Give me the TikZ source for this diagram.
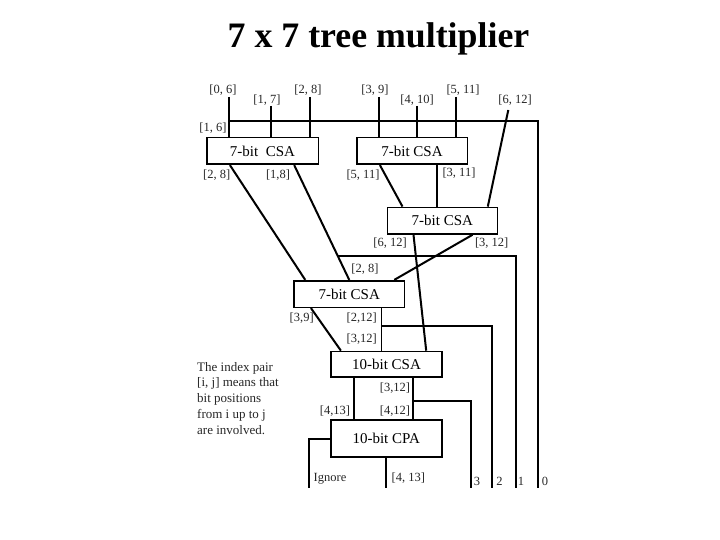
\documentclass[tikz,border=0pt]{standalone}
\usepackage{fontspec}
\setmainfont{Liberation Serif}
\usetikzlibrary{calc}

\tikzset{
  csabox/.style={draw, line width=1.6pt, inner sep=0pt, minimum height=26.6pt,
    font=\fontsize{15}{17}\selectfont},
  idx/.style={inner sep=0pt, font=\fontsize{12.5}{14}\selectfont, text=black!85},
  wire/.style={line width=2pt},
  thinwire/.style={line width=0.9pt},
}

\begin{document}
\begin{tikzpicture}[x=1pt,y=-1pt]
  \useasboundingbox (0,0) rectangle (720,540);
  \node[anchor=base, font=\fontsize{35.8}{40}\selectfont\bfseries] (title) at (378.5,48) {7 x 7 tree multiplier};

  % adders
  \node[csabox, minimum width=111.6pt] (csaA) at (262.5,151) {7-bit\ \ CSA};
  \node[csabox, minimum width=110.6pt] (csaB) at (412,151) {7-bit CSA};
  \node[csabox, minimum width=110pt] (csaC) at (442.3,220.7) {7-bit CSA};
  \node[csabox, minimum width=110.3pt] (csaD) at (349.2,294) {7-bit CSA};
  \node[csabox, minimum width=111pt, minimum height=25.7pt] (csaE) at (386.5,364.3) {10-bit CSA};
  \node[csabox, minimum width=111pt, minimum height=37pt] (cpa) at (386.2,438.7) {10-bit CPA};

  % index labels
  \node[idx] (l06) at (223,90) {[0, 6]};
  \node[idx] (l17) at (267,100) {[1, 7]};
  \node[idx] (l28) at (308,90) {[2, 8]};
  \node[idx] (l39) at (375,90) {[3, 9]};
  \node[idx] (l410) at (417,100) {[4, 10]};
  \node[idx] (l511) at (463,90) {[5, 11]};
  \node[idx] (l612) at (515,100) {[6, 12]};
  \node[idx] (l16) at (213,128) {[1, 6]};
  \node[idx] (lA28) at (216.7,175) {[2, 8]};
  \node[idx] (lA18) at (278,175) {[1,8]};
  \node[idx] (lB511) at (363,175) {[5, 11]};
  \node[idx] (lB311) at (459,173) {[3, 11]};
  \node[idx] (lC612) at (390,243.3) {[6, 12]};
  \node[idx] (lC312) at (491.7,243.3) {[3, 12]};
  \node[idx] (lD28) at (365,269.3) {[2, 8]};
  \node[idx] (lD39) at (301.7,318.3) {[3,9]};
  \node[idx] (lD212) at (361.7,318.3) {[2,12]};
  \node[idx] (lD312) at (361.7,339.3) {[3,12]};
  \node[idx] (lE312) at (395,388.3) {[3,12]};
  \node[idx] (lE413) at (335,410.7) {[4,13]};
  \node[idx] (lE412) at (395,410.7) {[4,12]};
  \node[idx] (lign) at (330,478.3) {Ignore};
  \node[idx] (lout) at (408.3,478.3) {[4, 13]};
  \node[idx] (n3) at (477,481.7) {3};
  \node[idx] (n2) at (499.5,481.7) {2};
  \node[idx] (n1) at (521,481.7) {1};
  \node[idx] (n0) at (545,481.7) {0};

  \node[anchor=north west, align=left, inner sep=0pt, text=black!85,
    font=\fontsize{13}{15.7}\selectfont] (note) at (197,362)
    {The index pair\\ {[i, j]} means that\\ bit positions\\ from i up to j\\ are involved.};

  % inputs
  \coordinate (a0) at (229.3,97);
  \coordinate (a1) at (271,106);
  \coordinate (a2) at (310,97);
  \coordinate (b0) at (379,97);
  \coordinate (b1) at (417.3,106);
  \coordinate (b2) at (456,97);
  \coordinate (c2) at (508.3,110);
  \draw[wire] (a0) -- (a0 |- csaA.north);
  \draw[wire] (a1) -- (a1 |- csaA.north);
  \draw[wire] (a2) -- (a2 |- csaA.north);
  \draw[wire] (b0) -- (b0 |- csaB.north);
  \draw[wire] (b1) -- (b1 |- csaB.north);
  \draw[wire] (b2) -- (b2 |- csaB.north);
  \draw[wire] (c2) -- ($(csaC.north east)+(-10.3,0)$);

  % output bits
  \coordinate (o0) at (538.3,488);
  \coordinate (o1) at (515.7,488);
  \coordinate (o2) at (492.3,488);
  \coordinate (o3) at (470.7,488);
  \coordinate (og) at (309.3,488);
  \coordinate (r0) at (538.3,120.7);
  \draw[wire] (a0 |- r0) -- (r0) -- (o0);

  % between the adders
  \coordinate (pA1) at ($(csaA.south west)+(88.3,0)$);
  \coordinate (pD1) at ($(csaD.north west)+(56,0)$);
  \draw[wire] ($(csaA.south west)+(24,0)$) -- ($(csaD.north west)+(12,0)$);
  \draw[wire] (pA1) -- (pD1);
  \coordinate (k1) at ($(pA1)!0.79!(pD1)$);
  \draw[wire] (k1) -- (k1 -| o1) -- (o1);

  \coordinate (pB) at ($(csaB.south west)+(81.3,0)$);
  \draw[wire] ($(csaB.south west)+(24,0)$) -- ($(csaC.north west)+(16,0)$);
  \draw[wire] (pB) -- (pB |- csaC.north);

  \draw[wire] ($(csaC.south west)+(27,0)$) -- ($(csaE.north west)+(96,0)$);
  \draw[wire] ($(csaC.south west)+(86,0)$) -- ($(csaD.north west)+(101,0)$);

  \coordinate (pD2) at ($(csaD.south west)+(87.7,0)$);
  \coordinate (r2) at (492.3,326);
  \draw[wire] ($(csaD.south west)+(17.7,0)$) -- ($(csaE.north west)+(10.7,0)$);
  \draw[thinwire] (pD2) -- (pD2 |- csaE.north);
  \draw[wire] (pD2 |- r2) -- (r2) -- (o2);

  \coordinate (pE1) at ($(csaE.south west)+(24,0)$);
  \coordinate (pE2) at ($(csaE.south west)+(83,0)$);
  \coordinate (r3) at (470.7,400.7);
  \draw[wire] (pE1) -- (pE1 |- cpa.north);
  \draw[wire] (pE2) -- (pE2 |- cpa.north);
  \draw[wire] (pE2 |- r3) -- (r3) -- (o3);

  \draw[wire] (cpa.west) -- (cpa.west -| og) -- (og);
  \draw[wire] (cpa.south) -- (cpa.south |- og);
\end{tikzpicture}
\end{document}
